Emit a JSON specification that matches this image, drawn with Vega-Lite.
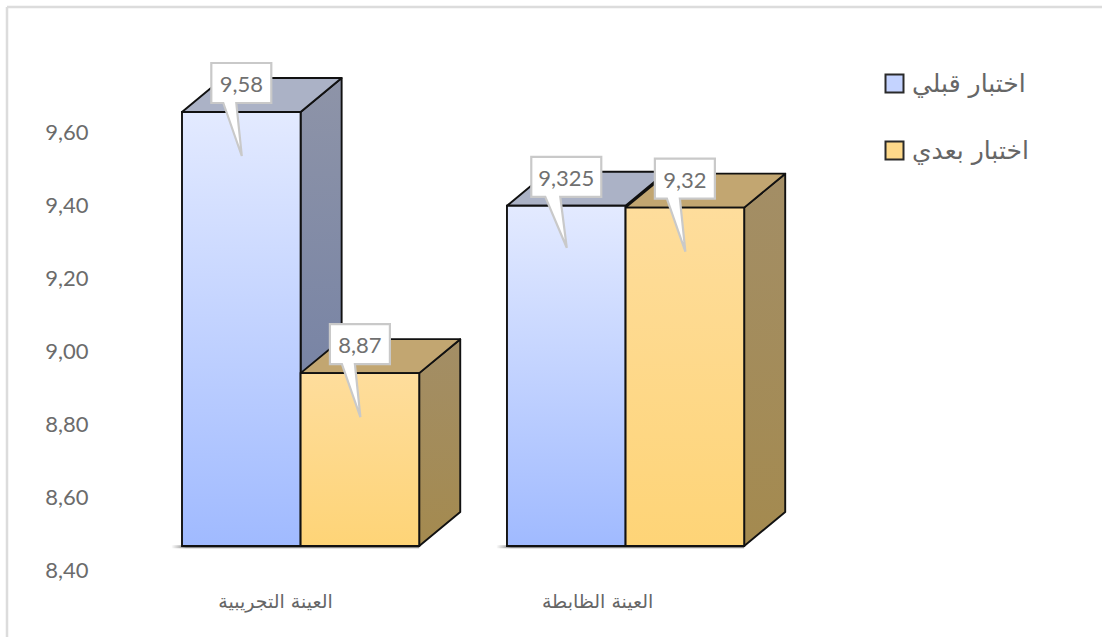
{
  "$schema": "https://vega.github.io/schema/vega-lite/v6.json",
  "width": 1095,
  "height": 630,
  "autosize": "none",
  "padding": {"left": 7, "top": 7, "right": 0, "bottom": 0},
  "background": "white",
  "config": {"view": {"stroke": null}},
  "datasets": {
    "bars": [
      {"group": "العينة التجريبية", "series": "اختبار قبلي", "value": 9.58, "label": "9,58", "start": 0, "end": 1, "center": 0.5},
      {"group": "العينة التجريبية", "series": "اختبار بعدي", "value": 8.87, "label": "8,87", "start": 1, "end": 2, "center": 1.5},
      {"group": "العينة الظابطة", "series": "اختبار قبلي", "value": 9.325, "label": "9,325", "start": 2.74, "end": 3.74, "center": 3.24},
      {"group": "العينة الظابطة", "series": "اختبار بعدي", "value": 9.32, "label": "9,32", "start": 3.74, "end": 4.74, "center": 4.24}
    ],
    "faces": [
      {"face": "a-side", "kind": "blue side", "p": 1, "low": 8.4, "high": 9.58},
      {"face": "a-side", "kind": "blue side", "p": 1.346, "low": 8.4924, "high": 9.6724},
      {"face": "a-top", "kind": "blue top", "p": 0, "low": 9.58, "high": 9.58},
      {"face": "a-top", "kind": "blue top", "p": 0.346, "low": 9.58, "high": 9.6724},
      {"face": "a-top", "kind": "blue top", "p": 1, "low": 9.58, "high": 9.6724},
      {"face": "a-top", "kind": "blue top", "p": 1.346, "low": 9.6724, "high": 9.6724},
      {"face": "b-side", "kind": "orange side", "p": 2, "low": 8.4, "high": 8.87},
      {"face": "b-side", "kind": "orange side", "p": 2.346, "low": 8.4924, "high": 8.9624},
      {"face": "b-top", "kind": "orange top", "p": 1, "low": 8.87, "high": 8.87},
      {"face": "b-top", "kind": "orange top", "p": 1.346, "low": 8.87, "high": 8.9624},
      {"face": "b-top", "kind": "orange top", "p": 2, "low": 8.87, "high": 8.9624},
      {"face": "b-top", "kind": "orange top", "p": 2.346, "low": 8.9624, "high": 8.9624},
      {"face": "c-side", "kind": "blue side", "p": 3.74, "low": 8.4, "high": 9.325},
      {"face": "c-side", "kind": "blue side", "p": 4.086, "low": 8.4924, "high": 9.4174},
      {"face": "c-top", "kind": "blue top", "p": 2.74, "low": 9.325, "high": 9.325},
      {"face": "c-top", "kind": "blue top", "p": 3.086, "low": 9.325, "high": 9.4174},
      {"face": "c-top", "kind": "blue top", "p": 3.74, "low": 9.325, "high": 9.4174},
      {"face": "c-top", "kind": "blue top", "p": 4.086, "low": 9.4174, "high": 9.4174},
      {"face": "d-side", "kind": "orange side", "p": 4.74, "low": 8.4, "high": 9.32},
      {"face": "d-side", "kind": "orange side", "p": 5.086, "low": 8.4924, "high": 9.4124},
      {"face": "d-top", "kind": "orange top", "p": 3.74, "low": 9.32, "high": 9.32},
      {"face": "d-top", "kind": "orange top", "p": 4.086, "low": 9.32, "high": 9.4124},
      {"face": "d-top", "kind": "orange top", "p": 4.74, "low": 9.32, "high": 9.4124},
      {"face": "d-top", "kind": "orange top", "p": 5.086, "low": 9.4124, "high": 9.4124}
    ],
    "shadows": [
      {"from": -0.09, "to": 2, "low": 8.394, "high": 8.402},
      {"from": 2.65, "to": 4.74, "low": 8.394, "high": 8.402}
    ],
    "frame": [
      {"left": -1.4755, "right": 7.757, "bottom": 8.1526, "top": 9.8655}
    ]
  },
  "resolve": {"scale": {"y": "independent"}},
  "layer": [
    {
      "data": {"name": "frame"},
      "mark": {"type": "rule", "stroke": "#dcdcdc", "strokeWidth": 2.5},
      "encoding": {
        "x": {"field": "left", "type": "quantitative", "scale": {"domain": [-1.4755, 7.757], "nice": false, "zero": false},
          "axis": {"orient": "bottom", "title": null, "values": [0.784, 3.5], "labelExpr": "datum.value < 2 ? 'العينة التجريبية' : 'العينة الظابطة'", "domain": false, "ticks": false, "grid": false, "labelFont": "DejaVu Sans", "labelFontSize": 19, "labelColor": "#666666", "labelPadding": 0, "offset": -36, "labelBaseline": "middle"}},
        "y": {"field": "bottom", "type": "quantitative", "scale": {"domain": [8.1526, 9.8655], "nice": false, "zero": false}, "axis": null},
        "y2": {"field": "top"}
      }
    },
    {
      "data": {"name": "frame"},
      "mark": {"type": "rule", "stroke": "#dcdcdc", "strokeWidth": 2.5},
      "encoding": {
        "x": {"field": "left", "type": "quantitative", "scale": {"domain": [-1.4755, 7.757], "nice": false, "zero": false}},
        "x2": {"field": "right"},
        "y": {"field": "top", "type": "quantitative", "scale": {"domain": [8.1526, 9.8655], "nice": false, "zero": false}, "axis": null}
      }
    },
    {
      "data": {"name": "bars"},
      "mark": {"type": "point", "opacity": 0, "filled": true, "shape": "square"},
      "encoding": {
        "x": {"field": "center", "type": "quantitative", "scale": {"domain": [-1.4755, 7.757], "nice": false, "zero": false}},
        "y": {"field": "value", "type": "quantitative", "scale": {"domain": [8.2176, 9.9455], "nice": false, "zero": false},
          "axis": {"orient": "left", "title": null, "values": [8.4, 8.6, 8.8, 9.0, 9.2, 9.4, 9.6], "labelExpr": "replace(format(datum.value, '.2f'), '.', ',')", "domain": false, "ticks": false, "grid": false, "labelFont": "Lato", "labelFontSize": 22, "labelColor": "#6b6b6b", "labelPadding": 0, "offset": -81}},
        "fill": {"field": "series", "type": "nominal",
          "scale": {"domain": ["اختبار قبلي", "اختبار بعدي"], "range": ["#c4d3ff", "#fed98a"]},
          "legend": {"title": null, "orient": "none", "legendX": 875, "legendY": 64, "symbolType": "square", "symbolSize": 324, "symbolOpacity": 1, "symbolStrokeColor": "#2a2a2a", "symbolStrokeWidth": 2, "rowPadding": 40, "labelFont": "DejaVu Sans", "labelFontSize": 25, "labelColor": "#666666", "labelOffset": 5}}
      }
    },
    {
      "data": {"name": "shadows"},
      "mark": {"type": "rect", "fill": {"gradient": "linear", "x1": 0, "y1": 0, "x2": 0.06, "y2": 0, "stops": [{"offset": 0, "color": "#ffffff"}, {"offset": 1, "color": "#8a8a8a"}]}},
      "encoding": {
        "x": {"field": "from", "type": "quantitative", "scale": {"domain": [-1.4755, 7.757], "nice": false, "zero": false}},
        "x2": {"field": "to"},
        "y": {"field": "low", "type": "quantitative", "scale": {"domain": [8.1526, 9.8655], "nice": false, "zero": false}, "axis": null},
        "y2": {"field": "high"}
      }
    },
    {
      "data": {"name": "faces"},
      "transform": [{"filter": "datum.kind === 'blue side'"}],
      "mark": {"type": "area", "orient": "vertical", "stroke": "#111111", "strokeWidth": 1.9, "strokeJoin": "round", "fill": {"gradient": "linear", "x1": 0, "y1": 0, "x2": 0, "y2": 1, "stops": [{"offset": 0, "color": "#8e94a8"}, {"offset": 1, "color": "#6c7ba3"}]}},
      "encoding": {
        "x": {"field": "p", "type": "quantitative", "scale": {"domain": [-1.4755, 7.757], "nice": false, "zero": false}},
        "y": {"field": "low", "type": "quantitative", "stack": null, "scale": {"domain": [8.1526, 9.8655], "nice": false, "zero": false}, "axis": null},
        "y2": {"field": "high"},
        "detail": {"field": "face"}
      }
    },
    {
      "data": {"name": "faces"},
      "transform": [{"filter": "datum.kind === 'blue top'"}],
      "mark": {"type": "area", "orient": "vertical", "stroke": "#111111", "strokeWidth": 1.9, "strokeJoin": "round", "fill": "#abb2c6"},
      "encoding": {
        "x": {"field": "p", "type": "quantitative", "scale": {"domain": [-1.4755, 7.757], "nice": false, "zero": false}},
        "y": {"field": "low", "type": "quantitative", "stack": null, "scale": {"domain": [8.1526, 9.8655], "nice": false, "zero": false}, "axis": null},
        "y2": {"field": "high"},
        "detail": {"field": "face"}
      }
    },
    {
      "data": {"name": "faces"},
      "transform": [{"filter": "datum.kind === 'orange side'"}],
      "mark": {"type": "area", "orient": "vertical", "stroke": "#111111", "strokeWidth": 1.9, "strokeJoin": "round", "fill": {"gradient": "linear", "x1": 0, "y1": 0, "x2": 0, "y2": 1, "stops": [{"offset": 0, "color": "#a38e66"}, {"offset": 1, "color": "#a48a4f"}]}},
      "encoding": {
        "x": {"field": "p", "type": "quantitative", "scale": {"domain": [-1.4755, 7.757], "nice": false, "zero": false}},
        "y": {"field": "low", "type": "quantitative", "stack": null, "scale": {"domain": [8.1526, 9.8655], "nice": false, "zero": false}, "axis": null},
        "y2": {"field": "high"},
        "detail": {"field": "face"}
      }
    },
    {
      "data": {"name": "faces"},
      "transform": [{"filter": "datum.kind === 'orange top'"}],
      "mark": {"type": "area", "orient": "vertical", "stroke": "#111111", "strokeWidth": 1.9, "strokeJoin": "round", "fill": "#c2a671"},
      "encoding": {
        "x": {"field": "p", "type": "quantitative", "scale": {"domain": [-1.4755, 7.757], "nice": false, "zero": false}},
        "y": {"field": "low", "type": "quantitative", "stack": null, "scale": {"domain": [8.1526, 9.8655], "nice": false, "zero": false}, "axis": null},
        "y2": {"field": "high"},
        "detail": {"field": "face"}
      }
    },
    {
      "data": {"name": "bars"},
      "transform": [{"filter": "datum.series === 'اختبار قبلي'"}],
      "mark": {"type": "rect", "stroke": "#111111", "strokeWidth": 1.9, "fill": {"gradient": "linear", "x1": 0, "y1": 0, "x2": 0, "y2": 1, "stops": [{"offset": 0, "color": "#e3eaff"}, {"offset": 1, "color": "#a0baff"}]}},
      "encoding": {
        "x": {"field": "start", "type": "quantitative", "scale": {"domain": [-1.4755, 7.757], "nice": false, "zero": false}},
        "x2": {"field": "end"},
        "y": {"field": "value", "type": "quantitative", "scale": {"domain": [8.1526, 9.8655], "nice": false, "zero": false}, "axis": null},
        "y2": {"datum": 8.4}
      }
    },
    {
      "data": {"name": "bars"},
      "transform": [{"filter": "datum.series === 'اختبار بعدي'"}],
      "mark": {"type": "rect", "stroke": "#111111", "strokeWidth": 1.9, "fill": {"gradient": "linear", "x1": 0, "y1": 0, "x2": 0, "y2": 1, "stops": [{"offset": 0, "color": "#fedd9c"}, {"offset": 1, "color": "#fed477"}]}},
      "encoding": {
        "x": {"field": "start", "type": "quantitative", "scale": {"domain": [-1.4755, 7.757], "nice": false, "zero": false}},
        "x2": {"field": "end"},
        "y": {"field": "value", "type": "quantitative", "scale": {"domain": [8.1526, 9.8655], "nice": false, "zero": false}, "axis": null},
        "y2": {"datum": 8.4}
      }
    },
    {
      "data": {"name": "bars"},
      "transform": [{"filter": "datum.label !== '9,325'"}],
      "mark": {"type": "point", "filled": true, "fill": "#ffffff", "stroke": "#c9c9c9", "strokeWidth": 2.2, "opacity": 1, "size": 4, "shape": "M-30,-49H30V-9H-5L0.5,44L-18,-9H-30Z"},
      "encoding": {
        "x": {"field": "center", "type": "quantitative", "scale": {"domain": [-1.4755, 7.757], "nice": false, "zero": false}},
        "y": {"field": "value", "type": "quantitative", "scale": {"domain": [8.1526, 9.8655], "nice": false, "zero": false}, "axis": null}
      }
    },
    {
      "data": {"name": "bars"},
      "transform": [{"filter": "datum.label === '9,325'"}],
      "mark": {"type": "point", "filled": true, "fill": "#ffffff", "stroke": "#c9c9c9", "strokeWidth": 2.2, "opacity": 1, "size": 4, "shape": "M-35,-49H35V-9H-6L0.5,42L-21,-9H-35Z"},
      "encoding": {
        "x": {"field": "center", "type": "quantitative", "scale": {"domain": [-1.4755, 7.757], "nice": false, "zero": false}},
        "y": {"field": "value", "type": "quantitative", "scale": {"domain": [8.1526, 9.8655], "nice": false, "zero": false}, "axis": null}
      }
    },
    {
      "data": {"name": "bars"},
      "mark": {"type": "text", "font": "Lato", "fontSize": 22, "color": "#707070", "align": "center", "baseline": "middle", "dy": -27},
      "encoding": {
        "x": {"field": "center", "type": "quantitative", "scale": {"domain": [-1.4755, 7.757], "nice": false, "zero": false}},
        "y": {"field": "value", "type": "quantitative", "scale": {"domain": [8.1526, 9.8655], "nice": false, "zero": false}, "axis": null},
        "text": {"field": "label"}
      }
    }
  ]
}
